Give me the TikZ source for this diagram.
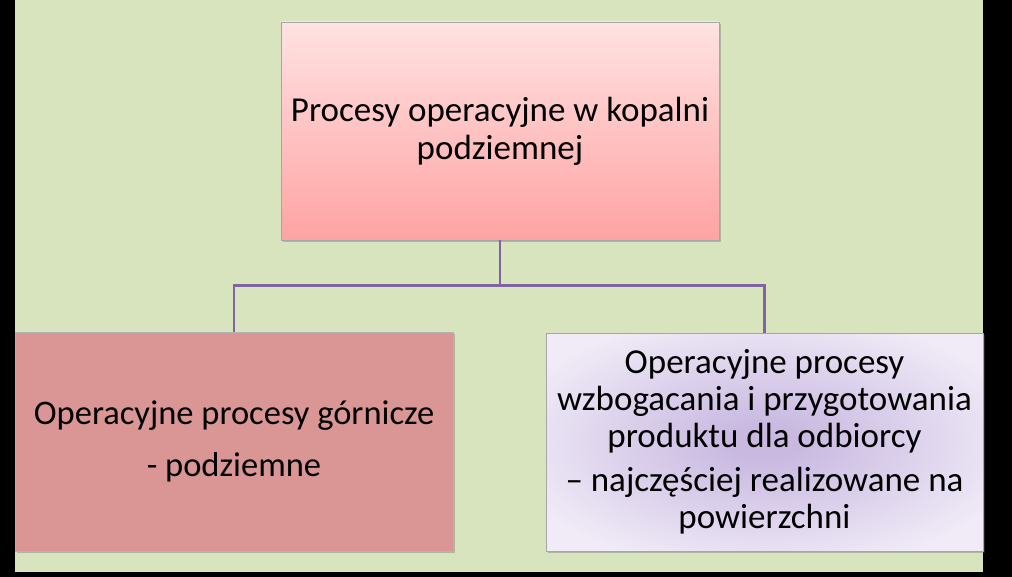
\documentclass[tikz,border=0pt]{standalone}
\usepackage{fontspec}
\setmainfont{Carlito}
\usetikzlibrary{shadows}
\definecolor{bggreen}{HTML}{D7E4BD}
\definecolor{toptop}{HTML}{FFE2E2}
\definecolor{topbot}{HTML}{FFA3A3}
\definecolor{leftfill}{HTML}{D99694}
\definecolor{rinner}{HTML}{C9B9E1}
\definecolor{router}{HTML}{F0EBF7}
\definecolor{conn}{HTML}{8064A2}
\pgfdeclareradialshading{softrad}{\pgfpoint{0bp}{0bp}}{%
  color(0bp)=(rinner); color(4bp)=(rinner); color(30bp)=(router); color(100bp)=(router)}
\begin{document}
\begin{tikzpicture}[x=1pt,y=-1pt,
  boxbase/.style={draw=black!35,line width=0.6pt,inner sep=0pt,align=center,
    font=\fontsize{35}{37}\selectfont,
    drop shadow={shadow xshift=2pt,shadow yshift=-2pt,opacity=0.35,fill=black!60}},
  connline/.style={draw=conn,line width=2.2pt}]
\useasboundingbox (0,0) rectangle (1012,577);
\fill[black] (0,0) rectangle (1012,577);
\fill[bggreen] (15,0) rectangle (983,572);
% top box
\node[boxbase,minimum width=438pt,minimum height=218pt,
  top color=toptop,bottom color=topbot,
  font=\fontsize{35}{38}\selectfont] (top) at (500,131)
  {Procesy operacyjne w kopalni\\podziemnej};
% left box
\node[boxbase,minimum width=438pt,minimum height=219pt,fill=leftfill,
  draw=black!30,font=\fontsize{34.5}{37}\selectfont] (left) at (234,441.5)
  {Operacyjne procesy górnicze\\[15pt]- podziemne};
% right box
\node[boxbase,minimum width=437pt,minimum height=218pt,
  shading=softrad] (right) at (764.5,442)
  {Operacyjne procesy\\wzbogacania i przygotowania\\produktu dla odbiorcy\\[7pt]– najczęściej realizowane na\\powierzchni};
% connectors
\coordinate (mid) at (500,285.5);
\draw[connline] (top.south) -- (mid);
\draw[connline] (left.north) |- (mid) -| (right.north);
\end{tikzpicture}
\end{document}
